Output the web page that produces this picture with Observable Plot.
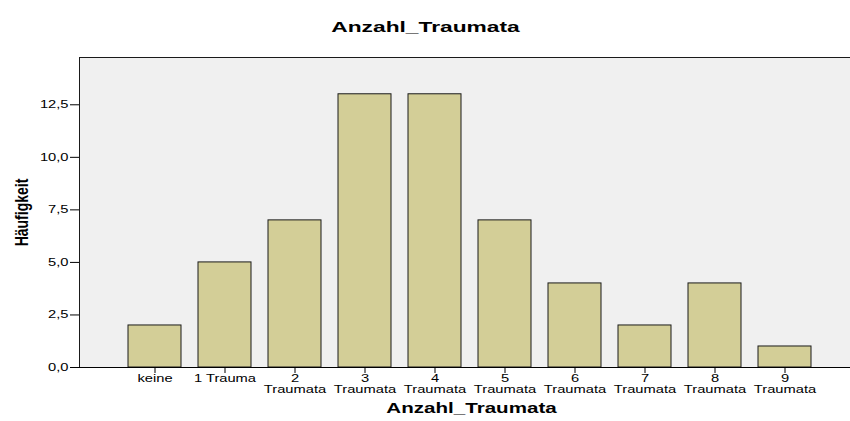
<!DOCTYPE html>
<html><head><meta charset="utf-8">
<script src="https://cdn.jsdelivr.net/npm/d3@7"></script>
<script src="https://cdn.jsdelivr.net/npm/@observablehq/plot@0.6"></script>
<style>
html,body{margin:0;padding:0;background:#fff;overflow:hidden;}
#chart{width:850px;height:421px;overflow:hidden;}
</style></head><body><div id="chart"></div>
<script>
const title = "Anzahl_Traumata";
const xLabel = "Anzahl_Traumata";
const yLabel = "Häufigkeit";
const categories = ["keine","1 Trauma","2 Traumata","3 Traumata","4 Traumata","5 Traumata","6 Traumata","7 Traumata","8 Traumata","9 Traumata"];
const counts = [2,5,7,13,13,7,4,2,4,1];
const yTicks = [0,2.5,5,7.5,10,12.5];
const yMax = 14.75;

const data = categories.map((c,i)=>({cat:c, n:counts[i]}));
const fmt = d => d3.format(".1f")(d).replace(".", ",");

const plot = Plot.plot({
  width: 850, height: 421,
  marginLeft: 79, marginRight: -2, marginTop: 57, marginBottom: 54,
  style: {fontFamily: "'Liberation Sans', Arial, sans-serif", background: "#fff", color: "#000"},
  x: {domain: categories, padding: 0.25, insetLeft: 30, insetRight: 23, label: null},
  y: {domain: [0, yMax], label: null},
  marks: [
    Plot.frame({fill: "#f0f0f0", stroke: "#1a1a1a"}),
    Plot.barY(data, {x: "cat", y: "n", fill: "#d3ce97", stroke: "#1a1a1a", strokeWidth: 1}),
    Plot.ruleY([0], {stroke: "#000"}),
    Plot.axisY({ticks: yTicks, tickFormat: fmt, tickSize: 9, tickPadding: 2, fontSize: 10, label: null, stroke: "#000", fill: "#000"}),
    Plot.axisX({tickSize: 6, tickPadding: 1, fontSize: 10, lineHeight: 1.1, label: null, stroke: "#000", fill: "#000",
      tickFormat: d => d.replace(" Traumata", "\nTraumata")}),
    Plot.text([title], {frameAnchor: "top", dx: -40.5, dy: -37, fontSize: 15.5, fontWeight: "bold", fill: "#000"}),
    Plot.text([xLabel], {frameAnchor: "bottom", dx: 5.5, dy: 45, fontSize: 14, fontWeight: "bold", fill: "#000"}),
    Plot.text([yLabel], {frameAnchor: "left", textAnchor: "middle", dx: -57, rotate: -90, fontSize: 14, fontWeight: "bold", fill: "#000"})
  ]
});
document.getElementById("chart").appendChild(plot);

// horizontal stretch of the text, as in the reference rendering
plot.querySelectorAll("text").forEach(t => {
  const tr = t.getAttribute("transform") || "";
  t.setAttribute("transform", (tr + (tr.includes("rotate") ? " scale(1,1.3)" : " scale(1.47,1)")).trim());
});
</script></body></html>
